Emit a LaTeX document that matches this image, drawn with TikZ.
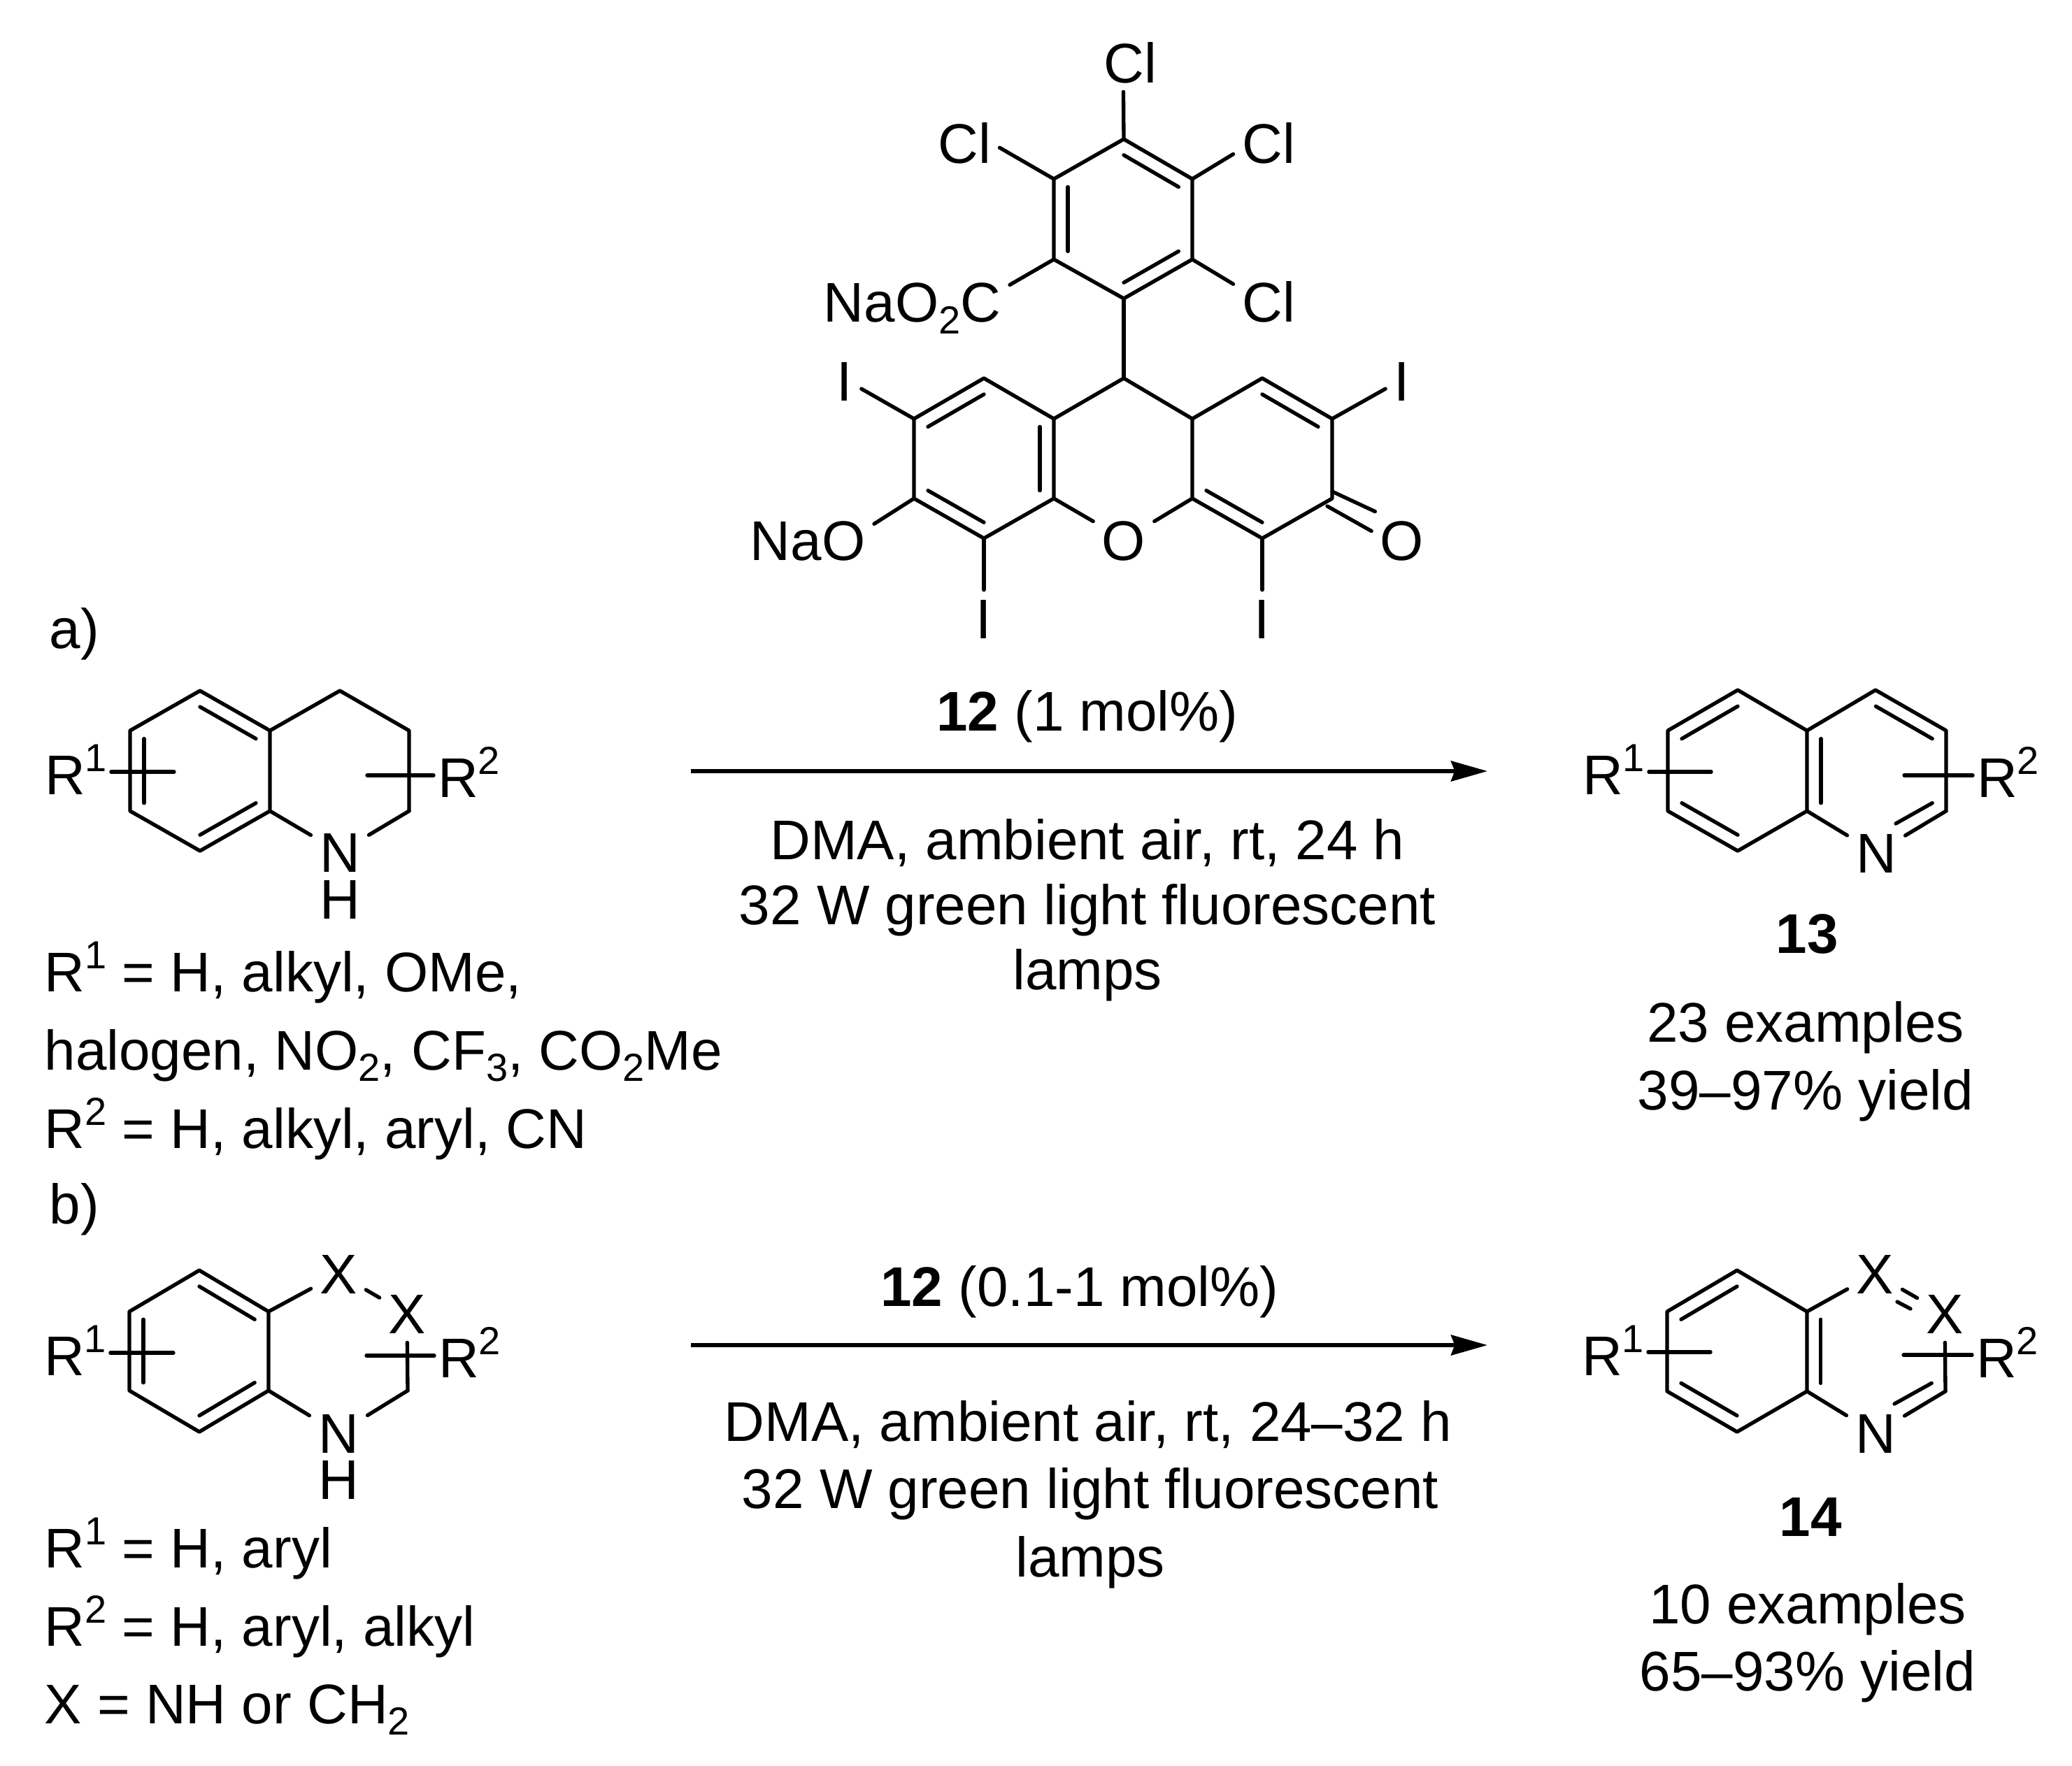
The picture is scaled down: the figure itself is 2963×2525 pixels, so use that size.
\documentclass[tikz,border=0pt]{standalone}
\usepackage{fontspec}
\setmainfont{Liberation Sans}
\usetikzlibrary{arrows.meta,calc,positioning}
\newcommand{\SupT}[1]{\raisebox{9.8pt}{\fontsize{16.8}{18}\selectfont #1}}
\newcommand{\SubT}[1]{\raisebox{-5pt}{\fontsize{16.8}{18}\selectfont #1}}
\newcommand{\InBond}[3]{\draw ($(#1)!0.2!(#3)$) -- ($(#2)!0.2!(#3)$);}
\tikzset{
  every picture/.style={line width=1.6pt, line cap=round, line join=round},
  atom/.style={inner sep=3pt, text height=17.2pt, text depth=0pt, font=\fontsize{24}{28}\selectfont},
  rlabel/.style={inner sep=1pt, anchor=base west, text height=17.2pt, text depth=0pt, font=\fontsize{24}{28}\selectfont},
  txt/.style={inner sep=0pt, anchor=base, font=\fontsize{24}{28}\selectfont},
  txtl/.style={txt, anchor=base west},
  rxn/.style={line width=1.7pt, line cap=butt, -{Stealth[length=15.6pt, width=8.7pt, inset=1.6pt]}}
}

\begin{document}
\begin{tikzpicture}[x=0.3pt, y=-0.3pt]
    \useasboundingbox (0,0) rectangle (2963,2525);

    % catalyst 12
    \coordinate (u1) at (1607,199);
    \coordinate (u2) at (1705,256);
    \coordinate (u3) at (1705,371);
    \coordinate (u4) at (1607,427);
    \coordinate (u5) at (1507,371);
    \coordinate (u6) at (1507,256);
    \coordinate (uc) at (1607,313);

    \coordinate (c9) at (1607,541);
    \coordinate (l1) at (1507,599);
    \coordinate (l2) at (1407,541);
    \coordinate (l3) at (1307,599);
    \coordinate (l4) at (1307,713);
    \coordinate (l5) at (1407,770);
    \coordinate (l6) at (1507,713);
    \coordinate (lc) at (1407,656);
    \coordinate (m1) at (1705,599);
    \coordinate (m2) at (1805,541);
    \coordinate (m3) at (1905,599);
    \coordinate (m4) at (1905,713);
    \coordinate (m5) at (1805,770);
    \coordinate (m6) at (1705,713);
    \coordinate (mc) at (1805,656);
    \coordinate (co1) at (1905,703);
    \coordinate (co2) at (1898,724);

    \node [atom] (clT) at (1616,90) {Cl};
    \node [atom] (clL) at (1379,205) {Cl};
    \node [atom] (clR) at (1814,205) {Cl};
    \node [atom] (clB) at (1814,432) {Cl};
    \node [atom, anchor=east] (naco) at (1444,432) {NaO\SubT{2}C};
    \node [atom] (iL) at (1208,545) {I};
    \node [atom] (iR) at (2005,545) {I};
    \node [atom] (iLL) at (1407,885) {I};
    \node [atom] (iLR) at (1805,885) {I};
    \node [atom] (oX) at (1607,773) {O};
    \node [atom] (oK) at (2005,773) {O};
    \node [atom, anchor=east] (nao) at (1250,773) {NaO};

    \draw (u1) -- (u2) -- (u3) -- (u4) -- (u5) -- (u6) -- cycle;
    \InBond{u1}{u2}{uc}
    \InBond{u3}{u4}{uc}
    \InBond{u5}{u6}{uc}
    \draw (u1) edge (clT.-103);
    \draw (u6) edge (clL.-7);
    \draw (u2) edge (clR.197);
    \draw (u3) edge (clB.153);
    \draw (u5) edge (naco.10);
    \draw (u4) edge (c9);

    \draw (c9) -- (l1) -- (l6);
    \draw (l1) -- (l2) -- (l3) -- (l4) -- (l5) -- (l6);
    \draw (c9) -- (m1) -- (m6);
    \draw (m1) -- (m2) -- (m3) -- (m4) -- (m5) -- (m6);
    \InBond{l2}{l3}{lc}
    \InBond{l4}{l5}{lc}
    \InBond{l1}{l6}{lc}
    \InBond{m2}{m3}{mc}
    \InBond{m5}{m6}{mc}
    \draw (l6) edge (oX.148);
    \draw (m6) edge (oX.32);
    \draw (l3) edge (iL.-25);
    \draw (m3) edge (iR.205);
    \draw (l5) edge (iLL.north);
    \draw (m5) edge (iLR.north);
    \draw (l4) edge (nao.14);
    \draw (co1) edge (oK.133);
    \draw (co2) edge (oK.163);

    % reaction a
    \node [txtl] (lblA) at (68,927) {a)};
    \coordinate (a1) at (286,988);
    \coordinate (a2) at (186,1045);
    \coordinate (a3) at (186,1160);
    \coordinate (a4) at (286,1217);
    \coordinate (a5) at (386,1160);
    \coordinate (a6) at (386,1045);
    \coordinate (a7) at (486,988);
    \coordinate (a8) at (585,1045);
    \coordinate (a9) at (585,1160);
    \coordinate (ac) at (286,1103);
    \coordinate (ar1) at (249,1104);
    \coordinate (ar2) at (525,1109);
    \node [atom] (aN) at (486,1219) {N};
    \node [atom, inner sep=0pt] (aH) at (486,1286) {H};
    \node [rlabel] (aR1) at (58,1136) {R\SupT{1}};
    \node [rlabel] (aR2) at (620,1140) {R\SupT{2}};

    \draw (a1) -- (a2) -- (a3) -- (a4) -- (a5) -- (a6) -- cycle;
    \draw (a6) -- (a7) -- (a8) -- (a9);
    \InBond{a1}{a6}{ac}
    \InBond{a2}{a3}{ac}
    \InBond{a4}{a5}{ac}
    \draw (a5) edge (aN);
    \draw (a9) edge (aN);
    \draw (aR1.east |- ar1) edge (ar1);
    \draw (aR2.west |- ar2) edge (ar2);

    \node [txtl] (aS1) at (61,1418) {R\SupT{1} = H, alkyl, OMe,};
    \node [txtl] (aS2) at (61,1530) {halogen, NO\SubT{2}, CF\SubT{3}, CO\SubT{2}Me};
    \node [txtl] (aS3) at (61,1642) {R\SupT{2} = H, alkyl, aryl, CN};

    \coordinate (arrAs) at (988,1103);
    \coordinate (arrAe) at (2127,1103);
    \draw (arrAs) edge[rxn] (arrAe);
    \node [txt] (aT1) at (1555,1045) {\textbf{12} (1 mol\%)};
    \node [txt] (aT2) at (1555,1229) {DMA, ambient air, rt, 24 h};
    \node [txt] (aT3) at (1555,1322) {32 W green light fluorescent};
    \node [txt] (aT4) at (1555,1415) {lamps};

    \coordinate (p1) at (2485,987);
    \coordinate (p2) at (2385,1045);
    \coordinate (p3) at (2385,1160);
    \coordinate (p4) at (2485,1217);
    \coordinate (p5) at (2584,1160);
    \coordinate (p6) at (2584,1045);
    \coordinate (p7) at (2682,987);
    \coordinate (p8) at (2783,1045);
    \coordinate (p9) at (2783,1160);
    \coordinate (pc) at (2485,1103);
    \coordinate (qc) at (2684,1103);
    \coordinate (pe) at (2711,1178);
    \coordinate (pr1) at (2447,1104);
    \coordinate (pr2) at (2723,1109);
    \node [atom] (pN) at (2683,1220) {N};
    \node [rlabel] (pR1) at (2257,1136) {R\SupT{1}};
    \node [rlabel] (pR2) at (2821,1140) {R\SupT{2}};

    \draw (p1) -- (p2) -- (p3) -- (p4) -- (p5) -- (p6) -- cycle;
    \draw (p6) -- (p7) -- (p8) -- (p9);
    \InBond{p1}{p2}{pc}
    \InBond{p3}{p4}{pc}
    \InBond{p5}{p6}{qc}
    \InBond{p7}{p8}{qc}
    \draw (p5) edge (pN);
    \draw (p9) edge (pN);
    \draw ($(p9)!0.2!(qc)$) edge (pe);
    \draw (pR1.east |- pr1) edge (pr1);
    \draw (pR2.west |- pr2) edge (pr2);

    \node [txt] (pL) at (2584,1363) {\textbf{13}};
    \node [txt] (pT1) at (2582,1490) {23 examples};
    \node [txt] (pT2) at (2582,1587) {39--97\% yield};

    % reaction b
    \node [txtl] (lblB) at (68,1750) {b)};
    \coordinate (b1) at (285,1817);
    \coordinate (b2) at (185,1876);
    \coordinate (b3) at (185,1989);
    \coordinate (b4) at (285,2048);
    \coordinate (b5) at (384,1989);
    \coordinate (b6) at (384,1876);
    \coordinate (b9) at (583,1989);
    \coordinate (bc) at (285,1932);
    \coordinate (br1) at (248,1935);
    \coordinate (br2) at (524,1939);
    \node [atom] (bX1) at (484,1822) {X};
    \node [atom] (bX2) at (582,1879) {X};
    \node [atom] (bN) at (484,2050) {N};
    \node [atom, inner sep=0pt] (bH) at (484,2116) {H};
    \node [rlabel] (bR1) at (57,1967) {R\SupT{1}};
    \node [rlabel] (bR2) at (621,1970) {R\SupT{2}};

    \draw (b1) -- (b2) -- (b3) -- (b4) -- (b5) -- (b6) -- cycle;
    \InBond{b1}{b6}{bc}
    \InBond{b2}{b3}{bc}
    \InBond{b4}{b5}{bc}
    \draw (b6) edge (bX1);
    \draw (bX1) edge (bX2);
    \draw (bX2) edge (b9);
    \draw (b5) edge (bN);
    \draw (b9) edge (bN);
    \draw (bR1.east |- br1) edge (br1);
    \draw (bR2.west |- br2) edge (br2);

    \node [txtl] (bS1) at (61,2242) {R\SupT{1} = H, aryl};
    \node [txtl] (bS2) at (61,2354) {R\SupT{2} = H, aryl, alkyl};
    \node [txtl] (bS3) at (61,2465) {X = NH or CH\SubT{2}};

    \coordinate (arrBs) at (988,1924);
    \coordinate (arrBe) at (2127,1924);
    \draw (arrBs) edge[rxn] (arrBe);
    \node [txt] (bT1) at (1544,1868) {\textbf{12} (0.1-1 mol\%)};
    \node [txt] (bT2) at (1556,2061) {DMA, ambient air, rt, 24--32 h};
    \node [txt] (bT3) at (1559,2157) {32 W green light fluorescent};
    \node [txt] (bT4) at (1559,2255) {lamps};

    \coordinate (s1) at (2484,1817);
    \coordinate (s2) at (2384,1876);
    \coordinate (s3) at (2384,1990);
    \coordinate (s4) at (2484,2048);
    \coordinate (s5) at (2584,1990);
    \coordinate (s6) at (2584,1876);
    \coordinate (s9) at (2782,1990);
    \coordinate (sc) at (2484,1932);
    \coordinate (tc) at (2683,1932);
    \coordinate (se) at (2709,2008);
    \coordinate (sd1) at (2713,1862);
    \coordinate (sd2) at (2732,1872);
    \coordinate (sr1) at (2446,1934);
    \coordinate (sr2) at (2722,1938);
    \node [atom] (sX1) at (2681,1822) {X};
    \node [atom] (sX2) at (2781,1879) {X};
    \node [atom] (sN) at (2682,2050) {N};
    \node [rlabel] (sR1) at (2256,1967) {R\SupT{1}};
    \node [rlabel] (sR2) at (2820,1970) {R\SupT{2}};

    \draw (s1) -- (s2) -- (s3) -- (s4) -- (s5) -- (s6) -- cycle;
    \InBond{s1}{s2}{sc}
    \InBond{s3}{s4}{sc}
    \InBond{s5}{s6}{tc}
    \draw (s6) edge (sX1);
    \draw (sX1) edge (sX2);
    \draw (sd1) edge (sd2);
    \draw (sX2) edge (s9);
    \draw (s5) edge (sN);
    \draw (s9) edge (sN);
    \draw ($(s9)!0.2!(tc)$) edge (se);
    \draw (sR1.east |- sr1) edge (sr1);
    \draw (sR2.west |- sr2) edge (sr2);

    \node [txt] (sL) at (2589,2197) {\textbf{14}};
    \node [txt] (sT1) at (2585,2322) {10 examples};
    \node [txt] (sT2) at (2585,2418) {65--93\% yield};
\end{tikzpicture}
\end{document}
